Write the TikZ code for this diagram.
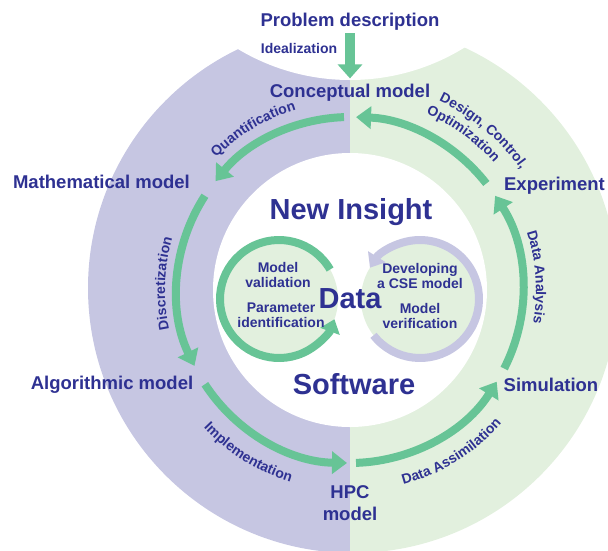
\documentclass[tikz,border=0pt]{standalone}
\usepackage{fontspec}
\setmainfont{Liberation Sans}
\usetikzlibrary{arrows.meta,decorations.text}
\definecolor{txt}{RGB}{46,49,146}
\definecolor{lav}{RGB}{198,198,226}
\definecolor{lgreen}{RGB}{226,240,222}
\definecolor{agreen}{RGB}{103,196,150}
\newcommand\myfs[1]{\fontsize{#1}{#1}\selectfont}
\newcommand\arclabel[4]{%
  \path[decorate,decoration={text along path,text align=center,
    text={|\bfseries\myfs{14}\color{txt}|#4}}]
    ([shift={(#1:#3pt)}]C) arc[start angle=#1,end angle=#2,radius=#3pt];}
\tikzset{
  lbl/.style={text=txt,font=\bfseries\myfs{18.5},inner sep=0pt,anchor=base},
  biglbl/.style={text=txt,font=\bfseries\myfs{29},inner sep=0pt,anchor=base},
  smalllbl/.style={text=txt,font=\bfseries\fontsize{14}{15}\selectfont,inner sep=0pt,anchor=base,align=center},
  cyc/.style={draw=agreen,line width=8pt,-{Triangle[width=22pt,length=15pt]}},
  ring/.style={line width=8pt,-{Triangle[width=20pt,length=13pt]}},
}
\begin{document}
\begin{tikzpicture}[x=1pt,y=1pt]
\useasboundingbox (0,0) rectangle (608,-550);
\clip (0,0) rectangle (608,-550);
\coordinate (C) at (350,-290);
\coordinate (L) at (279,-299);
\coordinate (R) at (420,-299);
% outer ring halves
\begin{scope}
  \clip (0,0) rectangle (350,-550);
  \fill[lav] (353,-288) circle[radius=265pt];
\end{scope}
\begin{scope}
  \clip (350,0) rectangle (608,-550);
  \fill[lgreen] (353,-288) circle[radius=265pt];
\end{scope}
\fill[white] (350,138) circle[radius=218pt];
\fill[white] (C) circle[radius=137pt];
% inner discs
\fill[lgreen] (L) circle[radius=59pt];
\fill[lgreen] (R) circle[radius=59pt];
\coordinate (ls) at ([shift={(30:59pt)}]L);
\coordinate (rs) at ([shift={(218:59pt)}]R);
\draw[ring,draw=agreen] (ls) arc[start angle=30,end angle=340,radius=59pt];
\draw[ring,draw=lav] (rs) arc[start angle=218,end angle=508,radius=59pt];
% labels
\node[lbl] (prob) at (350,-26) {Problem description};
\node[text=txt,font=\bfseries\myfs{14},inner sep=0pt,anchor=base] (ideal) at (299,-53) {Idealization};
\node[lbl] (concept) at (350,-97) {Conceptual model};
\node[lbl] (math) at (101.5,-188) {Mathematical model};
\node[lbl] (algo) at (112,-389) {Algorithmic model};
\node[lbl,align=center] (hpc) at (350,-520) {HPC\\[3pt]model};
\node[lbl] (sim) at (551,-391) {Simulation};
\node[lbl] (exp) at (554.5,-190) {Experiment};
\node[biglbl] (insight) at (351,-219) {New Insight};
\node[biglbl] (data) at (350,-308) {Data};
\node[biglbl] (soft) at (354,-394) {Software};
\node[smalllbl] (mval) at (278,-287) {Model\\validation};
\node[smalllbl] (pid) at (281,-327) {Parameter\\identification};
\node[smalllbl] (dev) at (420,-288) {Developing\\a CSE model};
\node[smalllbl] (mver) at (420,-328) {Model\\verification};
% idealization arrow
\draw[draw=agreen,line width=10pt,-{Triangle[width=24pt,length=14pt]},shorten <=3pt,shorten >=5pt]
  (prob.south) -- (concept.north);
% cycle arrows
\foreach \n/\a in {a1/38,a2/92,a3/147,a4/213,a5/272,a6/333}
  \coordinate (\n) at ([shift={(\a:173pt)}]C);
\draw[cyc] (a1) arc[start angle=38,end angle=88,radius=173pt];
\draw[cyc] (a2) arc[start angle=92,end angle=141,radius=173pt];
\draw[cyc] (a3) arc[start angle=147,end angle=206,radius=173pt];
\draw[cyc] (a4) arc[start angle=213,end angle=269,radius=173pt];
\draw[cyc] (a5) arc[start angle=272,end angle=328,radius=173pt];
\draw[cyc] (a6) arc[start angle=333,end angle=393,radius=173pt];
% arc labels
\arclabel{151}{91}{188}{Quantification}
\arclabel{208}{148}{185}{Discretization}
\arclabel{34}{-26}{186}{Data Analysis}
\arclabel{80}{20}{209}{Design, Control,}
\arclabel{84}{24}{192}{Optimization}
\arclabel{208}{268}{201}{Implementation}
\arclabel{272}{332}{202}{Data Assimilation}
\end{tikzpicture}
\end{document}
